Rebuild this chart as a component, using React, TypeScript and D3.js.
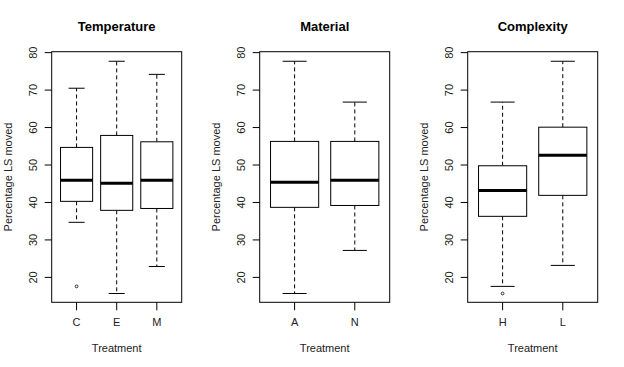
import React, { useEffect, useRef } from 'react';
import * as d3 from 'd3';

// box stats: [lower whisker, Q1, median, Q3, upper whisker]
const panelTitles = ['Temperature', 'Material', 'Complexity'];

const temperatureGroups = ['C', 'E', 'M'];
const temperatureStats = [
  [34.7, 40.3, 45.9, 54.7, 70.5],
  [15.7, 37.9, 45.1, 57.9, 77.7],
  [22.9, 38.4, 45.9, 56.2, 74.2],
];
const temperatureOutliers = [[17.6], [], []];

const materialGroups = ['A', 'N'];
const materialStats = [
  [15.7, 38.7, 45.4, 56.3, 77.7],
  [27.2, 39.2, 45.9, 56.3, 66.8],
];
const materialOutliers = [[], []];

const complexityGroups = ['H', 'L'];
const complexityStats = [
  [17.6, 36.3, 43.2, 49.8, 66.8],
  [23.2, 41.9, 52.6, 60.1, 77.7],
];
const complexityOutliers = [[15.7], []];

const yTicks = [20, 30, 40, 50, 60, 70, 80];
const yDomain = [13.35, 80.25];

const font = 'Liberation Sans, Arial, Helvetica, sans-serif';

const App: React.FC = () => {
  const svgRef = useRef<SVGSVGElement>(null);

  useEffect(() => {
    if (!svgRef.current) return;
    const root = d3.select(svgRef.current);
    root.selectAll('*').remove();

    const panels = [
      { title: panelTitles[0], groups: temperatureGroups, stats: temperatureStats, outliers: temperatureOutliers },
      { title: panelTitles[1], groups: materialGroups, stats: materialStats, outliers: materialOutliers },
      { title: panelTitles[2], groups: complexityGroups, stats: complexityStats, outliers: complexityOutliers },
    ];

    const panelWidth = 208;
    const plot = { left: 51.7, right: 181.7, top: 51.7, bottom: 302.3 };

    const y = d3.scaleLinear().domain(yDomain).range([plot.bottom, plot.top]);

    panels.forEach((p, pi) => {
      const g = root.append('g').attr('transform', `translate(${pi * panelWidth},0)`);
      const n = p.groups.length;
      // R style: xlim 0.5..n+0.5 widened by 4%
      const x = d3.scaleLinear()
        .domain([0.5 - 0.04 * n, n + 0.5 + 0.04 * n])
        .range([plot.left, plot.right]);
      const unit = x(1) - x(0);
      const boxW = 0.8 * unit;
      const capW = boxW / 2;
      const cx = (plot.left + plot.right) / 2;

      // title
      g.append('text')
        .attr('x', cx)
        .attr('y', 31)
        .attr('text-anchor', 'middle')
        .attr('font-family', font)
        .attr('font-weight', 'bold')
        .attr('font-size', 13)
        .text(p.title);

      // boxes
      p.stats.forEach((s, i) => {
        const xc = x(i + 1);
        const [lo, q1, med, q3, hi] = s;
        g.append('line')
          .attr('x1', xc).attr('x2', xc)
          .attr('y1', y(q3)).attr('y2', y(hi))
          .attr('stroke', '#000').attr('stroke-dasharray', '4,3');
        g.append('line')
          .attr('x1', xc).attr('x2', xc)
          .attr('y1', y(q1)).attr('y2', y(lo))
          .attr('stroke', '#000').attr('stroke-dasharray', '4,3');
        [lo, hi].forEach(v => {
          g.append('line')
            .attr('x1', xc - capW / 2).attr('x2', xc + capW / 2)
            .attr('y1', y(v)).attr('y2', y(v))
            .attr('stroke', '#000');
        });
        g.append('rect')
          .attr('x', xc - boxW / 2)
          .attr('y', y(q3))
          .attr('width', boxW)
          .attr('height', y(q1) - y(q3))
          .attr('fill', '#fff')
          .attr('stroke', '#000');
        g.append('line')
          .attr('x1', xc - boxW / 2).attr('x2', xc + boxW / 2)
          .attr('y1', y(med)).attr('y2', y(med))
          .attr('stroke', '#000').attr('stroke-width', 3);
        p.outliers[i].forEach(v => {
          g.append('circle')
            .attr('cx', xc).attr('cy', y(v)).attr('r', 1.4)
            .attr('fill', 'none').attr('stroke', '#000').attr('stroke-width', 0.8);
        });
      });

      // frame
      g.append('rect')
        .attr('x', plot.left).attr('y', plot.top)
        .attr('width', plot.right - plot.left)
        .attr('height', plot.bottom - plot.top)
        .attr('fill', 'none').attr('stroke', '#000');

      // y axis
      yTicks.forEach(t => {
        g.append('line')
          .attr('x1', plot.left - 7).attr('x2', plot.left)
          .attr('y1', y(t)).attr('y2', y(t))
          .attr('stroke', '#000');
        g.append('text')
          .attr('transform', `translate(37,${y(t)}) rotate(-90)`)
          .attr('text-anchor', 'middle')
          .attr('font-family', font)
          .attr('font-size', 11)
          .attr('fill', '#222')
          .text(t);
      });
      g.append('text')
        .attr('transform', `translate(12,${(plot.top + plot.bottom) / 2}) rotate(-90)`)
        .attr('text-anchor', 'middle')
        .attr('font-family', font)
        .attr('font-size', 11)
        .attr('fill', '#222')
        .text('Percentage LS moved');

      // x axis
      p.groups.forEach((c, i) => {
        g.append('line')
          .attr('x1', x(i + 1)).attr('x2', x(i + 1))
          .attr('y1', plot.bottom).attr('y2', plot.bottom + 8)
          .attr('stroke', '#000');
        g.append('text')
          .attr('x', x(i + 1))
          .attr('y', 326)
          .attr('text-anchor', 'middle')
          .attr('font-family', font)
          .attr('font-size', 11)
          .attr('fill', '#222')
          .text(c);
      });
      g.append('text')
        .attr('x', cx)
        .attr('y', 351.5)
        .attr('text-anchor', 'middle')
        .attr('font-family', font)
        .attr('font-size', 11)
        .attr('fill', '#222')
        .text('Treatment');
    });
  }, []);

  return (
    <svg
      ref={svgRef}
      width={624}
      height={367}
      style={{ position: 'absolute', left: 0, top: 0, background: '#fff' }}
    />
  );
};

export default App;
